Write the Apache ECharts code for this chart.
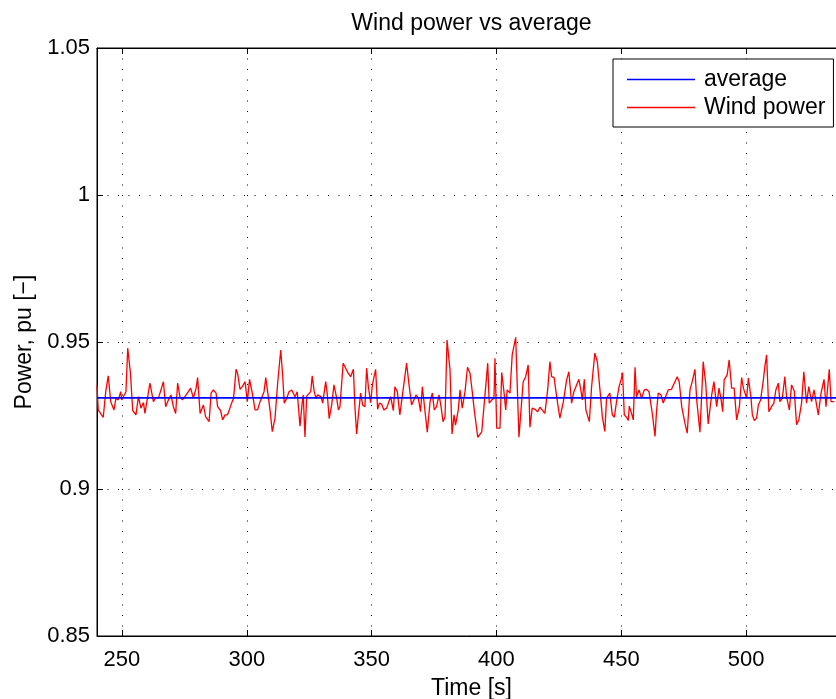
<!DOCTYPE html>
<html><head><meta charset="utf-8">
<script src="https://cdn.jsdelivr.net/npm/echarts@6/dist/echarts.min.js"></script>
<style>html,body{margin:0;padding:0;background:#fff}#c{width:836px;height:699px}</style>
</head><body><div id="c"></div>
<script>
const chartTitle = 'Wind power vs average';
const xName = 'Time [s]';
const yName = 'Power, pu [\u2212]';
const seriesNames = ['average', 'Wind power'];

const times = [
240.0,240.5,241.2,242.5,243.5,244.5,245.5,246.8,247.6,248.5,
249.5,249.9,250.8,251.6,252.3,253.4,254.3,255.6,256.6,257.6,
258.6,259.2,260.3,261.2,262.6,263.6,264.6,265.4,266.6,267.5,
268.6,269.6,270.6,271.5,272.3,273.2,274.2,275.2,276.6,277.5,
278.6,279.7,280.3,281.3,282.6,283.5,284.9,285.7,286.6,287.7,
288.3,289.5,290.3,291.3,292.2,293.0,293.9,294.7,295.7,296.3,
297.3,298.2,299.3,300.2,301.1,302.2,303.3,304.3,305.3,305.9,
306.9,307.6,308.4,309.3,310.2,311.3,312.4,313.6,314.4,315.0,
316.0,316.9,318.0,318.6,319.3,320.2,321.3,322.2,322.6,323.3,
324.0,324.6,325.6,326.2,327.0,327.7,328.4,329.7,330.4,331.6,
332.2,333.0,334.0,334.9,336.0,336.7,337.3,338.6,339.6,340.6,
341.6,342.7,343.3,344.0,344.7,345.6,346.4,347.3,348.0,348.7,
349.6,350.3,351.6,352.4,353.1,354.0,354.9,356.0,356.9,357.6,
358.7,359.3,360.3,361.3,362.7,364.0,364.9,366.0,366.9,367.8,
368.7,369.6,370.3,371.1,372.3,373.4,374.3,375.1,376.0,377.0,
377.8,378.6,379.4,380.2,381.4,382.2,383.0,383.6,384.7,385.4,
386.3,387.4,388.4,389.4,390.3,391.1,392.5,394.1,395.4,396.5,
397.1,398.1,399.0,399.4,400.1,401.4,402.1,403.0,403.7,404.3,
405.4,406.3,407.7,409.0,410.7,411.7,412.7,413.4,414.3,415.4,
416.5,417.4,418.3,419.4,420.5,421.4,422.1,423.1,424.1,425.4,
426.8,428.1,429.0,430.1,431.0,432.1,433.0,433.8,434.4,435.2,
435.8,437.2,438.1,439.4,440.4,441.4,442.4,443.4,444.1,445.4,
446.4,447.2,448.1,449.1,449.9,450.5,451.2,452.1,452.8,453.2,
454.1,454.8,455.5,456.1,457.1,458.1,459.2,460.1,461.1,461.9,
462.5,463.5,464.1,464.8,465.9,466.8,467.5,468.8,470.1,471.2,
472.4,473.2,474.2,475.5,476.4,477.5,478.4,479.5,480.2,481.5,
482.8,483.8,484.8,486.2,487.1,488.2,489.1,489.9,490.6,491.2,
492.4,493.2,494.2,495.2,496.2,497.3,498.2,498.9,499.5,500.2,
500.9,501.9,502.5,503.3,504.2,504.9,505.8,506.9,507.5,508.2,
509.1,510.2,511.1,511.9,512.9,513.5,514.5,515.5,516.2,517.3,
518.2,519.3,520.2,521.1,522.2,523.1,524.2,525.1,526.2,527.2,
528.0,528.9,530.0,531.2,532.0,533.3,534.0,535.3
];

const power = [
0.9354,0.9269,0.9272,0.9244,0.9331,0.9385,0.9297,0.9269,0.9309,0.9303,
0.9331,0.9303,0.9318,0.9331,0.9479,0.9394,0.9267,0.9252,0.9314,0.9275,
0.9294,0.9257,0.9314,0.9360,0.9297,0.9312,0.9309,0.9314,0.9365,0.9280,
0.9303,0.9320,0.9280,0.9257,0.9360,0.9314,0.9303,0.9314,0.9331,0.9343,
0.9309,0.9343,0.9379,0.9257,0.9286,0.9246,0.9229,0.9326,0.9337,0.9326,
0.9280,0.9267,0.9235,0.9252,0.9252,0.9269,0.9292,0.9309,0.9407,0.9394,
0.9339,0.9348,0.9365,0.9297,0.9373,0.9326,0.9269,0.9269,0.9297,0.9303,
0.9331,0.9379,0.9373,0.9269,0.9195,0.9241,0.9365,0.9473,0.9382,0.9292,
0.9309,0.9331,0.9337,0.9335,0.9314,0.9331,0.9214,0.9294,0.9320,0.9177,
0.9316,0.9320,0.9331,0.9385,0.9331,0.9309,0.9320,0.9314,0.9292,0.9365,
0.9326,0.9239,0.9286,0.9354,0.9309,0.9269,0.9280,0.9428,0.9411,0.9394,
0.9382,0.9407,0.9280,0.9187,0.9252,0.9326,0.9286,0.9280,0.9411,0.9348,
0.9294,0.9354,0.9407,0.9271,0.9292,0.9289,0.9269,0.9275,0.9297,0.9314,
0.9267,0.9348,0.9331,0.9252,0.9343,0.9428,0.9360,0.9286,0.9303,0.9320,
0.9309,0.9263,0.9348,0.9354,0.9193,0.9297,0.9326,0.9269,0.9280,0.9320,
0.9280,0.9229,0.9246,0.9507,0.9405,0.9187,0.9252,0.9217,0.9269,0.9337,
0.9275,0.9331,0.9414,0.9394,0.9331,0.9269,0.9176,0.9194,0.9320,0.9428,
0.9292,0.9303,0.9309,0.9445,0.9207,0.9207,0.9396,0.9331,0.9269,0.9337,
0.9326,0.9456,0.9516,0.9176,0.9365,0.9382,0.9422,0.9210,0.9275,0.9271,
0.9263,0.9278,0.9269,0.9257,0.9337,0.9433,0.9382,0.9379,0.9314,0.9241,
0.9297,0.9371,0.9399,0.9292,0.9331,0.9354,0.9373,0.9337,0.9303,0.9373,
0.9269,0.9229,0.9348,0.9462,0.9433,0.9343,0.9246,0.9196,0.9309,0.9326,
0.9252,0.9244,0.9297,0.9348,0.9371,0.9396,0.9252,0.9244,0.9233,0.9282,
0.9257,0.9235,0.9414,0.9314,0.9337,0.9309,0.9337,0.9339,0.9331,0.9326,
0.9252,0.9179,0.9263,0.9326,0.9320,0.9292,0.9309,0.9337,0.9339,0.9360,
0.9382,0.9365,0.9280,0.9223,0.9190,0.9337,0.9365,0.9407,0.9303,0.9193,
0.9433,0.9360,0.9221,0.9320,0.9365,0.9280,0.9343,0.9309,0.9263,0.9371,
0.9388,0.9439,0.9343,0.9343,0.9235,0.9280,0.9379,0.9343,0.9346,0.9309,
0.9377,0.9314,0.9252,0.9233,0.9241,0.9286,0.9303,0.9371,0.9416,0.9456,
0.9263,0.9280,0.9292,0.9337,0.9360,0.9297,0.9309,0.9382,0.9314,0.9269,
0.9354,0.9333,0.9219,0.9235,0.9292,0.9399,0.9292,0.9348,0.9297,0.9337,
0.9331,0.9252,0.9326,0.9373,0.9280,0.9407,0.9297,0.9297
];

const avgTimes = [240, 540];
const avgPower = [0.931, 0.931];

const xMin = 240, xMax = 540;
const yMin = 0.85, yMax = 1.05, yStep = 0.05;

const font = '"Liberation Sans", Arial, Helvetica, sans-serif';
const chart = echarts.init(document.getElementById('c'), null, {renderer: 'canvas'});

const gridLine = {show: true, lineStyle: {color: '#000', width: 1, type: [1, 9.5]}};
const axisLineStyle = {show: true, lineStyle: {color: '#000', width: 1}};
const tickStyle = {show: true, inside: true, length: 6, lineStyle: {color: '#000', width: 1}};

const option = {
  animation: false,
  backgroundColor: '#fff',
  textStyle: {fontFamily: font},
  grid: {left: 97, top: 48, width: 749, height: 588, show: true, borderColor: '#000', borderWidth: 1,
         backgroundColor: 'transparent', containLabel: false, outerBoundsMode: 'none'},
  legend: {
    orient: 'vertical', left: 613, top: 59,
    data: seriesNames,
    icon: 'rect', itemWidth: 68, itemHeight: 1.6, itemGap: 1,
    padding: [7, 8, 6, 14],
    backgroundColor: '#fff', borderColor: '#000', borderWidth: 1, borderRadius: 0,
    textStyle: {fontSize: 23, color: '#000', fontFamily: font, padding: [0, 0, 0, 4], lineHeight: 27},
    selectedMode: false
  },
  xAxis: [
    {type: 'value', min: xMin, max: xMax, position: 'bottom',
     name: xName, nameLocation: 'middle', nameGap: 41,
     nameTextStyle: {fontSize: 23, color: '#000', fontFamily: font},
     axisLine: axisLineStyle, axisTick: tickStyle,
     axisLabel: {fontSize: 22, color: '#000', fontFamily: font, margin: 13, showMinLabel: false, showMaxLabel: false},
     splitLine: gridLine},
    {type: 'value', min: xMin, max: xMax, position: 'top',
     name: chartTitle, nameLocation: 'middle', nameGap: 13,
     nameTextStyle: {fontSize: 23, color: '#000', fontFamily: font},
     axisLine: axisLineStyle, axisTick: tickStyle,
     axisLabel: {show: false}, splitLine: {show: false}}
  ],
  yAxis: [
    {type: 'value', min: yMin, max: yMax, interval: yStep,
     name: yName, nameLocation: 'middle', nameGap: 53, nameRotate: 90,
     nameTextStyle: {fontSize: 23, color: '#000', fontFamily: font},
     axisLine: axisLineStyle, axisTick: tickStyle,
     axisLabel: {fontSize: 22, color: '#000', fontFamily: font, margin: 7, padding: [11, 0, 0, 0]},
     splitLine: gridLine}
  ],
  series: [
    {name: seriesNames[1], type: 'line', xAxisIndex: 0, yAxisIndex: 0,
     data: times.map((t, i) => [t, power[i]]),
     symbol: 'none', showSymbol: false,
     lineStyle: {color: '#ff0000', width: 1.3}, itemStyle: {color: '#ff0000'}, z: 2},
    {name: seriesNames[0], type: 'line', xAxisIndex: 0, yAxisIndex: 0,
     data: avgTimes.map((t, i) => [t, avgPower[i]]),
     symbol: 'none', showSymbol: false,
     lineStyle: {color: '#0000ff', width: 1.6}, itemStyle: {color: '#0000ff'}, z: 3}
  ]
};
chart.setOption(option);
</script>
</body></html>
